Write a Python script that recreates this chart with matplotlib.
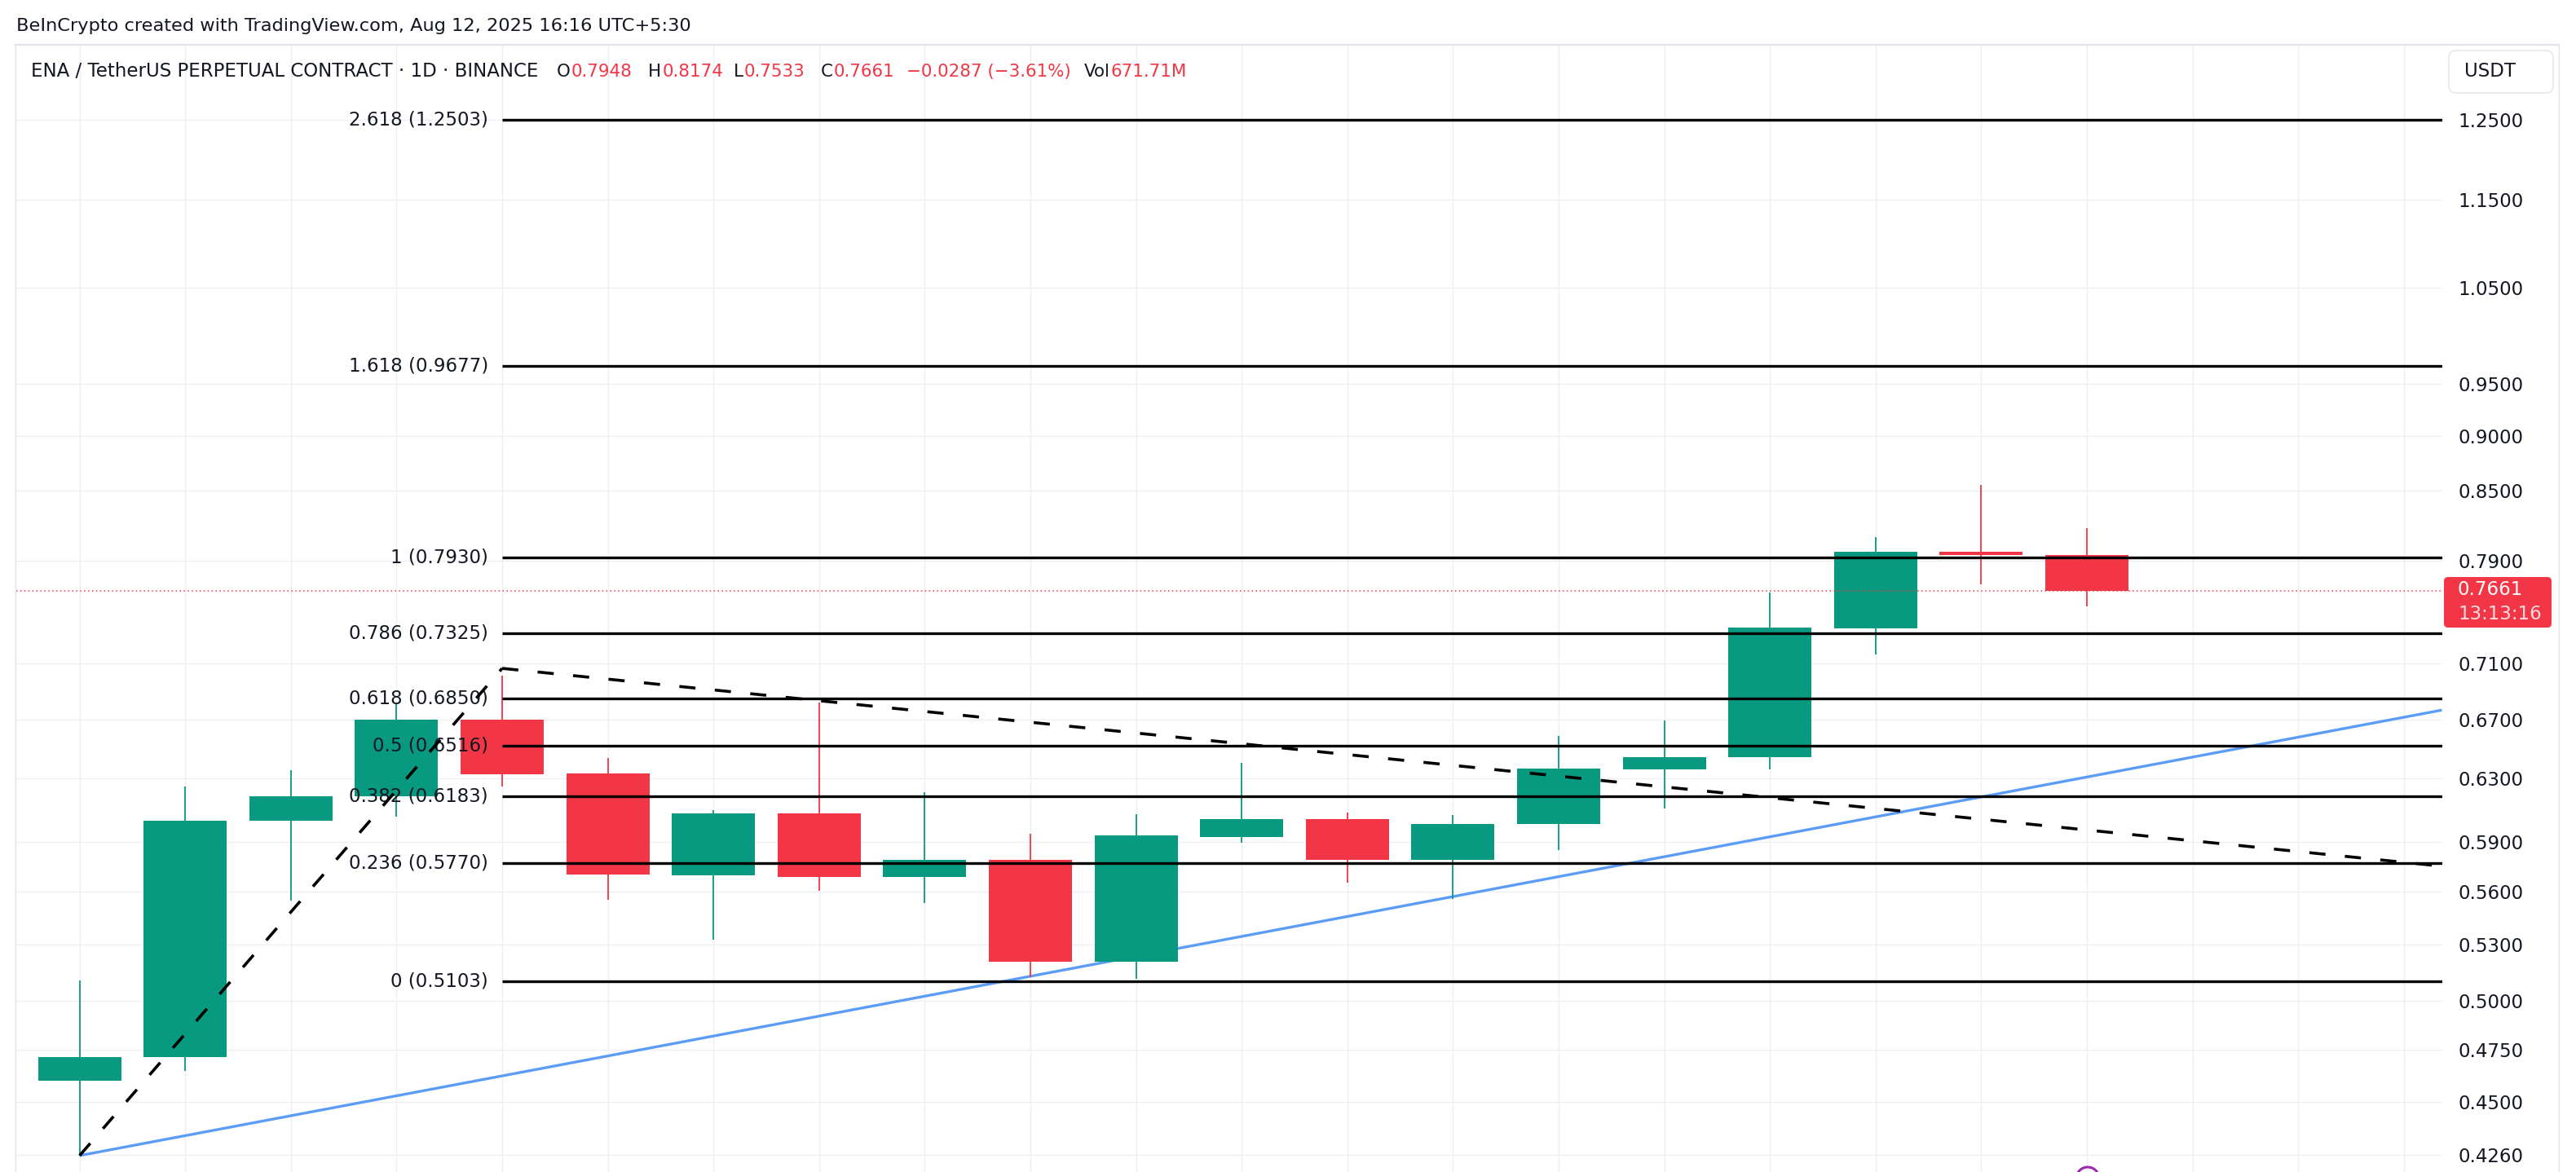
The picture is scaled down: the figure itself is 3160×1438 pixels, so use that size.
import numpy as np
import matplotlib
matplotlib.use("Agg")
import matplotlib.pyplot as plt
from matplotlib.patches import FancyBboxPatch, Circle
from matplotlib.lines import Line2D
from matplotlib.ticker import NullLocator
from matplotlib.transforms import IdentityTransform

plt.rcParams['font.family'] = ['DejaVu Sans']

# ---------------- data ----------------
opens  = [0.4599, 0.4717, 0.6027, 0.6187, 0.6698, 0.6334, 0.5698, 0.6075, 0.5688, 0.5790,
          0.5209, 0.5929, 0.6040, 0.5790, 0.6007, 0.6362, 0.6444, 0.7367, 0.7975, 0.7948]
highs  = [0.5106, 0.6247, 0.6354, 0.6813, 0.7010, 0.6437, 0.6095, 0.6820, 0.6210, 0.5948,
          0.6070, 0.6403, 0.6081, 0.6066, 0.6585, 0.6693, 0.7648, 0.8100, 0.8551, 0.8174]
lows   = [0.4256, 0.4649, 0.5551, 0.6056, 0.6250, 0.5554, 0.5329, 0.5607, 0.5536, 0.5122,
          0.5115, 0.5895, 0.5655, 0.5558, 0.5846, 0.6108, 0.6358, 0.7170, 0.7710, 0.7533]
closes = [0.4715, 0.6029, 0.6185, 0.6698, 0.6330, 0.5699, 0.6076, 0.5688, 0.5790, 0.5209,
          0.5938, 0.6040, 0.5790, 0.6010, 0.6367, 0.6444, 0.7370, 0.7975, 0.7948, 0.7661]

fib_ratios = ["2.618", "1.618", "1", "0.786", "0.618", "0.5", "0.382", "0.236", "0"]
fib_prices = [1.2503, 0.9677, 0.7930, 0.7325, 0.6850, 0.6516, 0.6183, 0.5770, 0.5103]
fib_start = 4

ytick_values = [1.25, 1.15, 1.05, 0.95, 0.90, 0.85, 0.79, 0.71, 0.67, 0.63,
                0.59, 0.56, 0.53, 0.50, 0.475, 0.45, 0.426]
ytick_labels = ["1.2500", "1.1500", "1.0500", "0.9500", "0.9000", "0.8500", "0.7900",
                "0.7100", "0.6700", "0.6300", "0.5900", "0.5600", "0.5300", "0.5000",
                "0.4750", "0.4500", "0.4260"]

up_leg_x = [0, 4]
up_leg_y = [0.4256, 0.7065]
down_x = [4, 22.36]
down_y = [0.7065, 0.5751]
support_x = [0, 22.36]
support_y = [0.4256, 0.6765]

last_price = 0.7661
countdown = "13:13:16"

header = "BeInCrypto created with TradingView.com, Aug 12, 2025 16:16 UTC+5:30"
symbol_title = "ENA / TetherUS PERPETUAL CONTRACT · 1D · BINANCE"
ohlc_keys = ["O", "H", "L", "C", "", "Vol"]
ohlc_vals = ["0.7948", "0.8174", "0.7533", "0.7661", "\u22120.0287 (\u22123.61%)", "671.71M"]
# layout: left edge (px) of each key/value pair in the header line
ohlc_xpos = [683, 795, 900, 1007, 1112, 1330]

# ---------------- style ----------------
GREEN = "#089981"
RED = "#F23645"
TXT = "#131722"
GRID = "#EDEFF3"
BORDER = "#E0E3EB"
BLUE = "#5B9CF6"

W, H = 3160, 1438
DPI = 100

def fx(px):
    return px / W

def fy(py):
    return 1 - py / H

fig = plt.figure(figsize=(W / DPI, H / DPI), dpi=DPI)
fig.patch.set_facecolor("white")
ax = fig.add_axes([fx(20), 0, fx(2996) - fx(20), fy(55)])
ax.set_facecolor("white")
ax.set_yscale("log")
ax.set_xlim(-0.599, 22.364)
ax.set_ylim(0.41839, 1.3515)

ax.yaxis.set_minor_locator(NullLocator())
ax.xaxis.set_minor_locator(NullLocator())
ax.set_yticks(ytick_values)
ax.set_yticklabels(ytick_labels)
ax.yaxis.tick_right()
ax.tick_params(axis="y", length=0, pad=13.7, labelsize=16.5, labelcolor=TXT)
ax.set_xticks(np.arange(0, 23))
ax.tick_params(axis="x", length=0, labelbottom=False)
ax.grid(True, color=GRID, lw=1.0, zorder=0)
ax.set_axisbelow(True)
for s in ax.spines.values():
    s.set_visible(False)

# ---------------- candles ----------------
x = np.arange(len(opens))
o = np.array(opens); c = np.array(closes)
cols = [GREEN if cc >= oo else RED for oo, cc in zip(o, c)]
ax.vlines(x, lows, highs, colors=cols, lw=1.3, zorder=2)
bottoms = np.minimum(o, c)
heights = np.abs(c - o)
ax.bar(x, heights, bottom=bottoms, width=0.787, color=cols, linewidth=0, zorder=2.1)

# support line (behind candles)
ax.plot(support_x, support_y, color=BLUE, lw=2.4, zorder=1.5, solid_capstyle="butt")

# fib levels
xr = ax.get_xlim()[1]
ax.hlines(fib_prices, fib_start, xr, colors="black", lw=2.4, zorder=3)
for r, p in zip(fib_ratios, fib_prices):
    ax.annotate(f"{r} ({p:.4f})", xy=(fib_start, p), xytext=(-12.2, 0),
                textcoords="offset points", ha="right", va="center",
                fontsize=16.5, color=TXT, zorder=4)

# current price line
ax.axhline(last_price, color=RED, lw=1.1, linestyle=(0, (1, 2.2)), zorder=3)

# dashed trend lines
ax.plot(up_leg_x, up_leg_y, color="black", lw=2.6, linestyle=(0, (5.5, 6.6)), zorder=5)
ax.plot(down_x, down_y, color="black", lw=2.6, linestyle=(0, (5.5, 6.6)), zorder=5)

# ---------------- frame & decorations ----------------
pix = IdentityTransform()
fig.add_artist(Line2D([19, 3139], [H - 55, H - 55], color=BORDER, lw=1.6, transform=pix))
fig.add_artist(Line2D([19, 19], [H - 55, 0], color=BORDER, lw=1.0, transform=pix))
fig.add_artist(Line2D([3139, 3139], [H - 55, 0], color=BORDER, lw=1.0, transform=pix))

# header
fig.text(fx(20), fy(32), header, fontsize=16.2, color=TXT, ha="left", va="center")

# legend line
renderer = fig.canvas.get_renderer()
fig.text(fx(37.5), fy(88), symbol_title, fontsize=16.5, color=TXT, ha="left", va="center")
for key, val, xp in zip(ohlc_keys, ohlc_vals, ohlc_xpos):
    cur = xp
    if key:
        t = fig.text(fx(cur), fy(88), key, fontsize=15.4, color=TXT, ha="left", va="center")
        cur = t.get_window_extent(renderer).x1 + 1
    fig.text(fx(cur), fy(88), val, fontsize=15.4, color=RED, ha="left", va="center")

# USDT box
fig.add_artist(FancyBboxPatch((3004, H - 114), 128, 52,
                              boxstyle="round,pad=0,rounding_size=9",
                              fc="white", ec=BORDER, lw=1.0, transform=pix))
fig.text(fx(3023), fy(88), "USDT", fontsize=16.5, color=TXT, ha="left", va="center")

# price tag
fig.add_artist(FancyBboxPatch((2998, H - 770), 132, 62,
                              boxstyle="round,pad=0,rounding_size=5",
                              fc=RED, ec="none", transform=pix))
fig.text(fx(3015), fy(724), f"{last_price:.4f}", fontsize=16.5, color="white",
         ha="left", va="center")
fig.text(fx(3015), fy(754), countdown, fontsize=16.5, color="#FCDDE1",
         ha="left", va="center")

# purple marker at bottom
fig.add_artist(Circle((2561, H - 1446), 14, fill=False, ec="#9C27B0", lw=2.2, transform=pix))

fig.savefig("out.png", dpi=DPI, facecolor="white")
